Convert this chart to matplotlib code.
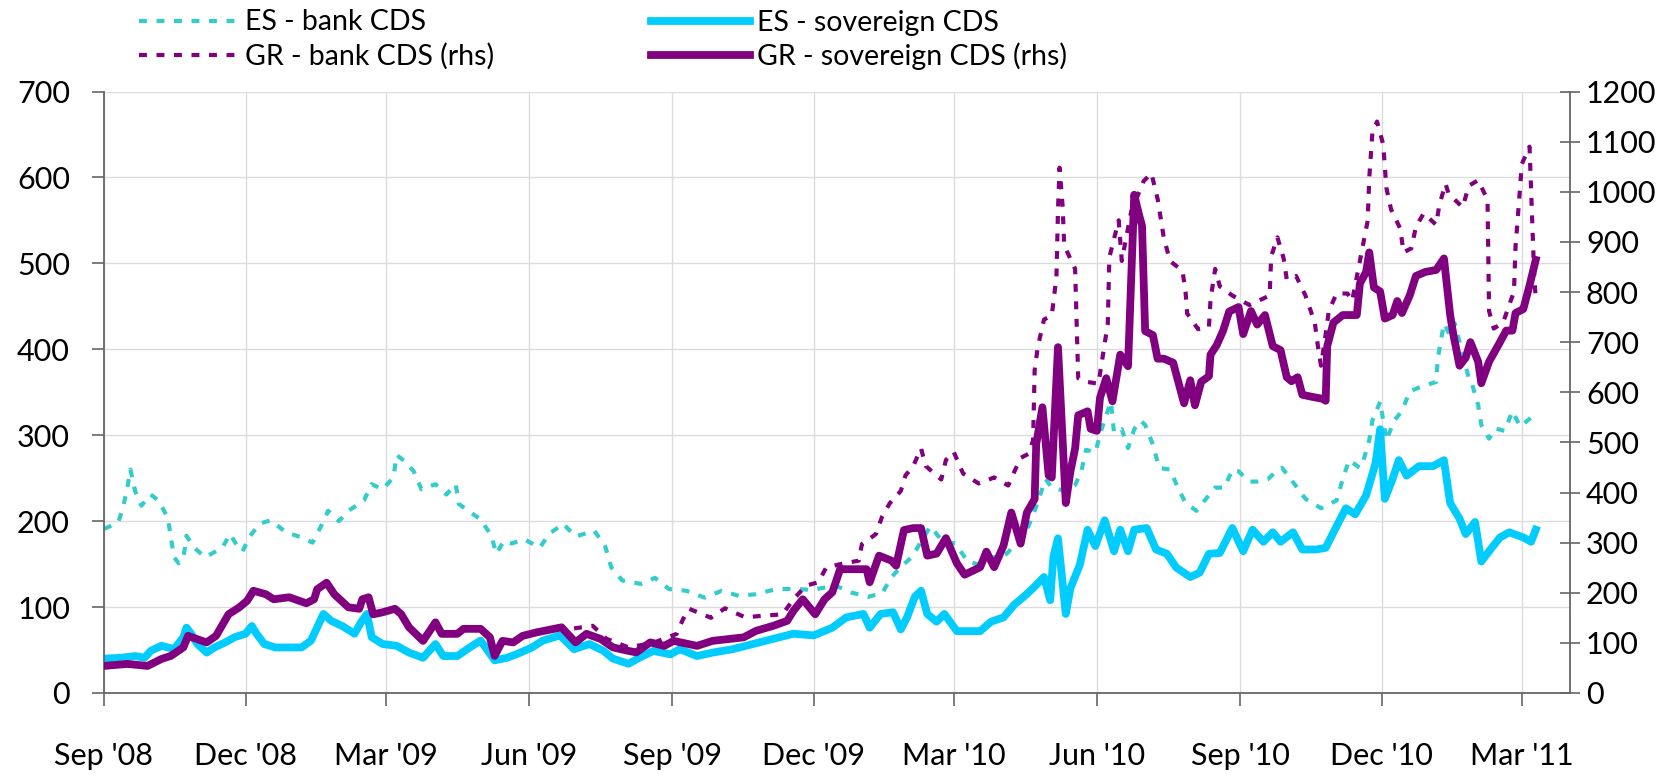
import matplotlib
matplotlib.use("Agg")
import matplotlib.pyplot as plt
import matplotlib.dates as mdates
import pandas as pd

plt.rcParams['font.family'] = ['Lato', 'DejaVu Sans']

START = pd.Timestamp('2008-09-01')

# ---- data: day offsets from 1 Sep 2008 and values ----
es_bank_days = [0, 9, 12, 15, 17, 20, 24, 30, 35, 41, 43, 45, 48, 51, 53, 58, 65, 76, 81, 87, 89, 94, 100, 107,
                117, 127, 134, 140, 144, 151, 157, 167, 172, 179, 186, 188, 193, 199, 204, 213, 220, 226, 228,
                234, 242, 249, 252, 257, 262, 270, 280, 286, 295, 303, 315, 322, 326, 333, 345, 354, 363, 374,
                386, 397, 408, 419, 432, 445, 455, 470, 480, 491, 500, 506, 514, 519, 531, 539, 547, 555, 563,
                572, 580, 589, 594, 599, 605, 609, 618, 624, 628, 631, 637, 641, 647, 649, 654, 658, 662, 666,
                669, 674, 678, 685, 690, 695, 702, 709, 714, 720, 725, 729, 736, 741, 748, 753, 757, 765, 772,
                782, 792, 796, 800, 807, 809, 813, 815, 820, 822, 824, 829, 834, 839, 847, 856, 857, 861, 865,
                868, 877, 879, 883, 885, 890, 894, 900, 905, 910, 916, 920]
es_bank_vals = [191, 198, 214, 239, 260, 235, 218, 231, 224, 204, 181, 158, 151, 156, 183, 169, 158, 169, 185, 167,
                165, 183, 197, 201, 187, 181, 175, 196, 212, 200, 212, 224, 243, 237, 251, 277, 270, 258, 237, 243,
                231, 243, 220, 212, 202, 183, 162, 177, 174, 179, 169, 185, 197, 182, 189, 171, 146, 131, 127, 134,
                121, 119, 111, 119, 113, 115, 121, 121, 120, 125, 117, 112, 116, 135, 150, 158, 194, 176, 174, 153,
                149, 158, 162, 180, 194, 217, 249, 239, 235, 242, 258, 283, 280, 307, 339, 303, 307, 285, 307, 317,
                312, 289, 262, 260, 239, 221, 212, 228, 239, 239, 260, 258, 246, 246, 249, 258, 262, 243, 226, 215,
                224, 249, 271, 262, 269, 294, 317, 339, 317, 294, 317, 328, 351, 357, 362, 389, 430, 416, 430, 366,
                360, 335, 312, 296, 308, 305, 328, 310, 319, 326]

es_sov_days = [0, 11, 20, 26, 30, 37, 45, 51, 53, 56, 60, 66, 71, 78, 84, 91, 95, 98, 103, 110, 118, 127, 133, 141,
               146, 153, 161, 165, 169, 172, 179, 188, 196, 205, 213, 218, 227, 235, 242, 251, 259, 265, 275, 282,
               293, 302, 312, 321, 327, 337, 344, 353, 364, 370, 381, 391, 404, 417, 430, 443, 456, 468, 477, 488,
               492, 499, 507, 512, 516, 521, 525, 529, 535, 540, 548, 555, 563, 570, 578, 585, 591, 597, 604, 608,
               610, 613, 618, 621, 627, 632, 637, 643, 649, 653, 658, 662, 670, 676, 683, 689, 698, 704, 710, 717,
               725, 732, 738, 745, 751, 756, 764, 770, 779, 785, 792, 798, 804, 811, 817, 820, 823, 828, 832, 837,
               845, 854, 861, 865, 871, 875, 881, 885, 890, 897, 903, 912, 917, 920]
es_sov_vals = [40, 41, 43, 41, 49, 55, 51, 65, 76, 69, 57, 47, 53, 59, 65, 69, 78, 69, 57, 53, 53, 53, 61, 92, 84,
               78, 69, 82, 92, 65, 57, 55, 47, 41, 57, 43, 43, 53, 61, 38, 41, 45, 53, 61, 67, 51, 57, 49, 40, 34,
               41, 49, 45, 51, 43, 47, 51, 57, 63, 69, 67, 76, 88, 92, 76, 92, 94, 74, 88, 112, 119, 92, 83, 92, 72,
               72, 72, 83, 88, 103, 112, 122, 135, 108, 158, 180, 92, 122, 149, 190, 171, 201, 165, 190, 165, 190,
               192, 167, 162, 146, 135, 140, 162, 163, 192, 165, 190, 176, 187, 176, 187, 167, 167, 169, 194, 215,
               208, 230, 267, 307, 226, 249, 271, 253, 264, 264, 271, 221, 203, 185, 199, 153, 165, 181, 187, 181,
               176, 190]

gr_bank_days = [280, 290, 300, 314, 323, 337, 353, 368, 372, 376, 390, 399, 412, 423, 436, 443, 451, 459, 464, 473,
                485, 487, 496, 500, 505, 512, 515, 520, 525, 528, 532, 538, 541, 546, 552, 562, 572, 581, 585, 589,
                594, 597, 598, 600, 604, 609, 612, 613, 614, 616, 617, 624, 626, 631, 639, 645, 646, 652, 654, 660,
                668, 673, 677, 681, 685, 693, 695, 696, 703, 710, 711, 714, 717, 725, 736, 749, 750, 754, 758, 760,
                766, 772, 778, 780, 782, 785, 787, 792, 799, 802, 812, 813, 815, 818, 822, 824, 827, 833, 835, 840,
                843, 848, 856, 858, 862, 864, 873, 877, 883, 889, 890, 893, 899, 906, 907, 908, 910, 911, 916, 917,
                919, 920]
gr_bank_vals = [121, 130, 128, 134, 108, 91, 100, 118, 147, 168, 150, 169, 151, 154, 157, 187, 214, 221, 250, 257,
                264, 297, 317, 352, 379, 403, 434, 453, 488, 453, 442, 426, 465, 481, 438, 418, 430, 414, 442, 469,
                477, 504, 644, 690, 745, 753, 830, 963, 1048, 970, 893, 846, 628, 621, 617, 737, 869, 943, 862, 960,
                1021, 1037, 986, 908, 862, 842, 799, 757, 726, 730, 784, 846, 811, 793, 774, 793, 871, 909, 867, 825,
                832, 793, 739, 692, 653, 716, 762, 797, 797, 782, 942, 1027, 1117, 1140, 1094, 1008, 965, 926, 879,
                887, 930, 957, 934, 973, 1016, 996, 969, 1012, 1023, 984, 762, 727, 739, 801, 891, 930, 1012, 1055,
                1090, 1004, 832, 786]

gr_sov_days = [0, 15, 28, 37, 43, 51, 54, 63, 66, 72, 80, 87, 92, 96, 104, 109, 119, 130, 135, 137, 143, 148, 157,
               164, 166, 170, 173, 179, 187, 191, 196, 205, 213, 217, 227, 231, 242, 248, 251, 256, 263, 269, 278,
               294, 303, 310, 319, 327, 337, 342, 351, 360, 366, 381, 391, 411, 419, 430, 439, 443, 449, 457, 463,
               468, 473, 481, 490, 492, 498, 506, 509, 514, 520, 525, 529, 535, 541, 548, 553, 563, 567, 572, 578,
               583, 589, 593, 598, 599, 603, 607, 609, 613, 615, 618, 621, 624, 626, 632, 634, 638, 640, 644, 648,
               653, 658, 662, 665, 667, 669, 674, 677, 681, 687, 691, 694, 698, 701, 705, 710, 711, 715, 719, 723,
               729, 732, 737, 741, 746, 751, 756, 760, 763, 767, 770, 776, 783, 785, 786, 790, 796, 805, 807, 811,
               813, 816, 820, 823, 828, 831, 834, 839, 843, 849, 856, 861, 865, 867, 871, 875, 878, 883, 885, 890,
               897, 901, 905, 907, 912, 916, 920]
gr_sov_vals = [54, 58, 54, 68, 74, 91, 114, 104, 101, 114, 157, 171, 184, 204, 197, 187, 191, 179, 187, 207, 220,
               197, 171, 168, 187, 191, 157, 161, 168, 157, 131, 104, 141, 118, 118, 128, 128, 111, 74, 104, 101,
               114, 121, 131, 101, 118, 108, 91, 84, 81, 101, 94, 104, 94, 104, 111, 124, 134, 144, 164, 187, 157,
               187, 201, 247, 247, 247, 221, 274, 264, 254, 325, 329, 329, 274, 278, 309, 259, 236, 251, 282, 251,
               294, 360, 298, 360, 387, 496, 570, 434, 430, 690, 566, 379, 442, 488, 554, 562, 527, 523, 589, 628,
               582, 675, 652, 994, 955, 932, 722, 714, 667, 667, 659, 613, 578, 624, 574, 621, 632, 675, 694, 722,
               761, 770, 716, 762, 735, 754, 692, 684, 630, 622, 630, 595, 591, 587, 583, 692, 739, 754, 754, 817,
               840, 879, 809, 801, 747, 754, 782, 758, 793, 832, 840, 844, 867, 754, 716, 653, 669, 700, 661, 618,
               661, 700, 723, 723, 758, 766, 813, 864]

left_ticks = [0, 100, 200, 300, 400, 500, 600, 700]
right_ticks = list(range(0, 1201, 100))


def to_dates(days):
    return START + pd.to_timedelta(days, unit='D')


C_ES_BANK = '#33CCCC'
C_ES_SOV = '#00CCFF'
C_GR = '#800080'
DASH = (0, (1.9, 2.3))

fig = plt.figure(figsize=(16.8, 7.79), dpi=100)
ax = fig.add_axes([104 / 1680, 86 / 779, (1570 - 104) / 1680, (693 - 91.5) / 779])
ax2 = ax.twinx()

l1, = ax.plot(to_dates(es_bank_days), es_bank_vals, color=C_ES_BANK, lw=3.0, linestyle=DASH,
              label='ES - bank CDS')
l3, = ax.plot(to_dates(es_sov_days), es_sov_vals, color=C_ES_SOV, lw=5.6, label='ES - sovereign CDS',
              solid_joinstyle='round')
l2, = ax2.plot(to_dates(gr_bank_days), gr_bank_vals, color=C_GR, lw=3.0, linestyle=DASH,
               label='GR - bank CDS (rhs)')
l4, = ax2.plot(to_dates(gr_sov_days), gr_sov_vals, color=C_GR, lw=5.6, label='GR - sovereign CDS (rhs)',
               solid_joinstyle='round')

ax.set_xlim(pd.Timestamp('2008-09-01'), pd.Timestamp('2011-04-01'))
ax.set_ylim(0, 700)
ax2.set_ylim(0, 1200)
ax.set_yticks(left_ticks)
ax2.set_yticks(right_ticks)

ax.xaxis.set_major_locator(mdates.MonthLocator(bymonth=[3, 6, 9, 12]))
ax.xaxis.set_major_formatter(mdates.DateFormatter("%b '%y"))

ax.set_axisbelow(True)
ax.grid(True, axis='both', color='#DCDCDC', lw=1.0)

spine_col = '#666666'
for a in (ax, ax2):
    a.spines['top'].set_visible(False)
    for s in ('left', 'right', 'bottom'):
        a.spines[s].set_color(spine_col)
        a.spines[s].set_linewidth(1.3)
ax.spines['right'].set_visible(False)
ax2.spines['left'].set_visible(False)
ax2.spines['bottom'].set_visible(False)

ax.tick_params(axis='x', direction='out', length=9.5, width=1.2, color=spine_col, pad=26,
               labelsize=22, labelcolor='black')
ax.tick_params(axis='y', direction='out', length=8.5, width=1.2, color=spine_col, pad=16,
               labelsize=22, labelcolor='black')
ax2.tick_params(axis='y', direction='inout', length=15, width=1.2, color=spine_col, pad=4,
                labelsize=22, labelcolor='black')

fig.legend(handles=[l1, l2, l3, l4], loc='upper left', bbox_to_anchor=(139 / 1680, 1 - 9.5 / 779),
           ncol=2, frameon=False, fontsize=20.5, handlelength=3.5, handletextpad=0.22,
           columnspacing=5.5, labelspacing=0.25, borderpad=0, borderaxespad=0)

fig.savefig('out.png', dpi=100)
